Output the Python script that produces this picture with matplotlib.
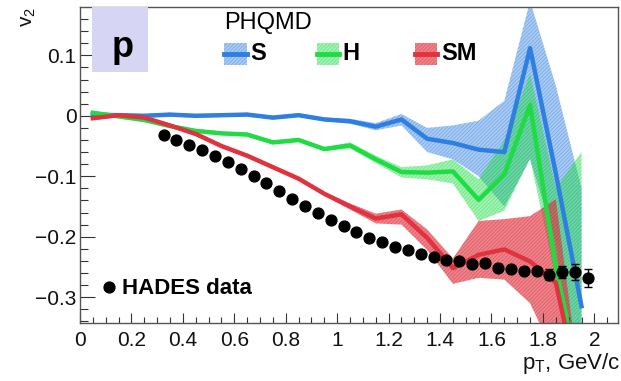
import matplotlib.pyplot as plt
import matplotlib.colors as mcolors
from matplotlib.patches import Rectangle
from matplotlib.lines import Line2D

plt.rcParams['font.family'] = ['Liberation Sans', 'DejaVu Sans']
plt.rcParams['hatch.linewidth'] = 0.5

# PHQMD v2 of protons, bin centres in pT
pt_model = [0.05, 0.15, 0.25, 0.35, 0.45, 0.55, 0.65, 0.75, 0.85, 0.95,
            1.05, 1.15, 1.25, 1.35, 1.45, 1.55, 1.65, 1.75, 1.85, 1.95]

# S
v2_s = [0.002, 0.001, 0.000, 0.002, 0.000, 0.001, 0.002, -0.003, 0.001, -0.006,
        -0.009, -0.018, -0.006, -0.038, -0.045, -0.056, -0.060, 0.112, -0.095, -0.315]
v2_s_hi = [0.005, 0.004, 0.003, 0.005, 0.003, 0.004, 0.005, 0.000, 0.004, -0.003,
           -0.005, -0.012, 0.003, -0.020, -0.016, -0.008, 0.025, 0.190, 0.050, -0.120]
v2_s_lo = [-0.001, -0.002, -0.003, -0.001, -0.003, -0.002, -0.001, -0.006, -0.002, -0.009,
           -0.013, -0.024, -0.016, -0.060, -0.072, -0.100, -0.150, -0.072, -0.210, -0.520]

# H
v2_h = [0.005, -0.001, -0.007, -0.017, -0.025, -0.029, -0.031, -0.044, -0.040, -0.055,
        -0.049, -0.072, -0.093, -0.094, -0.092, -0.139, -0.097, 0.018, -0.250, -0.450]
v2_h_hi = [0.008, 0.002, -0.004, -0.014, -0.022, -0.026, -0.028, -0.041, -0.037, -0.052,
           -0.044, -0.066, -0.085, -0.082, -0.072, -0.105, -0.040, 0.070, -0.120, -0.060]
v2_h_lo = [0.002, -0.004, -0.010, -0.020, -0.028, -0.032, -0.034, -0.047, -0.043, -0.058,
           -0.054, -0.078, -0.102, -0.105, -0.112, -0.174, -0.157, -0.070, -0.270, -0.500]

# SM
v2_sm = [-0.004, 0.001, -0.003, -0.016, -0.030, -0.050, -0.066, -0.085, -0.104, -0.129,
         -0.150, -0.170, -0.163, -0.202, -0.252, -0.230, -0.221, -0.241, -0.276, -0.470]
v2_sm_hi = [-0.001, 0.004, 0.000, -0.013, -0.027, -0.047, -0.063, -0.082, -0.101, -0.126,
            -0.145, -0.162, -0.155, -0.188, -0.236, -0.174, -0.171, -0.166, -0.138, -0.460]
v2_sm_lo = [-0.007, -0.002, -0.006, -0.019, -0.033, -0.053, -0.069, -0.088, -0.107, -0.132,
            -0.155, -0.178, -0.180, -0.222, -0.278, -0.268, -0.271, -0.310, -0.400, -0.700]

# HADES data
pt_hades = [0.325, 0.375, 0.425, 0.475, 0.525, 0.575, 0.625, 0.675, 0.725, 0.775,
            0.825, 0.875, 0.925, 0.975, 1.025, 1.075, 1.125, 1.175, 1.225, 1.275,
            1.325, 1.375, 1.425, 1.475, 1.525, 1.575, 1.625, 1.675, 1.725, 1.775,
            1.825, 1.875, 1.925, 1.975]
v2_hades = [-0.031, -0.040, -0.048, -0.057, -0.066, -0.077, -0.088, -0.099, -0.111, -0.124,
            -0.137, -0.150, -0.161, -0.172, -0.183, -0.192, -0.202, -0.209, -0.217, -0.222,
            -0.228, -0.234, -0.238, -0.240, -0.246, -0.244, -0.251, -0.253, -0.256, -0.257,
            -0.263, -0.258, -0.259, -0.268]
err_hades = [0.003] * 24 + [0.004, 0.004, 0.005, 0.005, 0.006, 0.006,
                            0.009, 0.010, 0.013, 0.015]

xticks = [0, 0.2, 0.4, 0.6, 0.8, 1.0, 1.2, 1.4, 1.6, 1.8, 2.0]
xtick_labels = ['0', '0.2', '0.4', '0.6', '0.8', '1', '1.2', '1.4', '1.6', '1.8', '2']
yticks = [-0.3, -0.2, -0.1, 0, 0.1]
ytick_labels = ['\u22120.3', '\u22120.2', '\u22120.1', '0', '0.1']

c_s = '#2f7fe0'
c_h = '#1fdc44'
c_sm = '#e0333f'

fig = plt.figure(figsize=(6.21, 3.81), dpi=100)
ax = fig.add_axes([0.1288, 0.1535, 0.8656, 0.8281])


def band(x, lo, hi, color, fa, ea):
    ax.fill_between(x, lo, hi, facecolor=mcolors.to_rgba(color, fa),
                    edgecolor=mcolors.to_rgba(color, ea), hatch='/////////', linewidth=0)


band(pt_model, v2_s_lo, v2_s_hi, c_s, 0.4, 0.5)
ax.plot(pt_model, v2_s, color=c_s, lw=3.2)
band(pt_model, v2_h_lo, v2_h_hi, c_h, 0.4, 0.5)
ax.plot(pt_model, v2_h, color=c_h, lw=3.2)
band(pt_model, v2_sm_lo, v2_sm_hi, c_sm, 0.6, 0.6)
ax.plot(pt_model, v2_sm, color=c_sm, lw=3.2)

ax.errorbar(pt_hades, v2_hades, yerr=err_hades, fmt='o', color='black', ms=7.8,
            elinewidth=1, capsize=3, capthick=1, zorder=5)

ax.set_xlim(0, 2.09)
ax.set_ylim(-0.342, 0.18)
ax.set_xticks(xticks)
ax.set_xticklabels(xtick_labels)
ax.set_xticks([i * 0.05 for i in range(42)], minor=True)
ax.set_yticks(yticks)
ax.set_yticklabels(ytick_labels)
ax.set_yticks([-0.34 + i * 0.02 for i in range(26)], minor=True)
ax.tick_params(axis='both', which='both', direction='in', color='#333333', labelsize=15,
               labelcolor='#111111', width=0.8)
ax.tick_params(axis='x', which='major', length=7.5, pad=6)
ax.tick_params(axis='x', which='minor', length=4)
ax.tick_params(axis='y', which='major', length=10.5, pad=2.5)
ax.tick_params(axis='y', which='minor', length=5.5)
for sp in ax.spines.values():
    sp.set_color('#555555')
    sp.set_linewidth(1.0)

# particle label box
ax.add_patch(Rectangle((0.0223, 0.794), 0.1042, 0.206, transform=ax.transAxes,
                       facecolor='#d6d6f4', edgecolor='none', zorder=6))
ax.text(0.080, 0.872, 'p', transform=ax.transAxes, ha='center', va='center',
        fontsize=26, fontweight='bold', zorder=7)

# model legend
ax.text(0.268, 0.948, 'PHQMD', transform=ax.transAxes, va='center', fontsize=17, zorder=7)
for x0, color, name, fa, ea in [(0.268, c_s, 'S', 0.4, 0.5), (0.440, c_h, 'H', 0.4, 0.5),
                                (0.623, c_sm, 'SM', 0.6, 0.6)]:
    ax.add_patch(Rectangle((x0, 0.816), 0.042, 0.069, transform=ax.transAxes,
                           facecolor=mcolors.to_rgba(color, fa), edgecolor=mcolors.to_rgba(color, ea),
                           hatch='/////////', linewidth=0, zorder=7))
    ax.add_line(Line2D([x0, x0 + 0.042], [0.851, 0.851], transform=ax.transAxes,
                       color=color, lw=3.5, zorder=8))
    ax.text(x0 + 0.049, 0.853, name, transform=ax.transAxes, va='center',
            fontsize=17, fontweight='bold', zorder=8)

# data legend
ax.plot([0.054], [0.1125], 'o', color='black', ms=7.8, transform=ax.transAxes, zorder=7)
ax.text(0.078, 0.108, 'HADES data', transform=ax.transAxes, va='center',
        fontsize=16, fontweight='bold', zorder=7)

fig.text(29 / 621, 1 - 17 / 381, r'$\mathregular{v_{2}}$', rotation=90,
         ha='center', va='center', fontsize=15, color='#111111')
fig.text(620 / 621, 1 - 369 / 381, r'$\mathregular{p_{T}}$, GeV/c', ha='right',
         va='baseline', fontsize=16, color='#111111')

fig.savefig('out.png', dpi=100)
